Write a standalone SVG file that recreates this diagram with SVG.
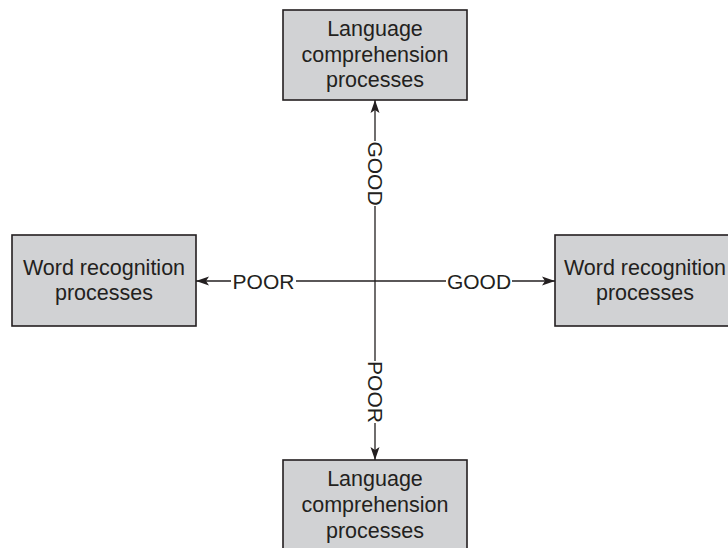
<svg xmlns="http://www.w3.org/2000/svg" width="728" height="548" viewBox="0 0 728 548">
<style>
.box{fill:#d1d2d4;stroke:#231f20;stroke-width:1.6}
.t{font-family:"Liberation Sans",Arial,sans-serif;font-size:21.5px;fill:#231f20;text-anchor:middle}
.lbl{font-family:"Liberation Sans",Arial,sans-serif;font-size:21px;fill:#231f20;text-anchor:middle}
.ln{stroke:#231f20;stroke-width:1.3;fill:none}
</style>
<defs>
<marker id="ah" markerWidth="14" markerHeight="10" refX="13" refY="5" orient="auto" markerUnits="userSpaceOnUse">
<path d="M0,0.5 L13,5 L0,9.5 L3,5 Z" fill="#231f20"/>
</marker>
</defs>
<rect width="728" height="548" fill="#ffffff"/>
<g id="lang-top">
<rect class="box" x="283" y="10" width="184" height="90"/>
<text class="t" x="375" y="35.5">Language</text>
<text class="t" x="375" y="61.5">comprehension</text>
<text class="t" x="375" y="87">processes</text>
</g>
<g id="word-left">
<rect class="box" x="12" y="235" width="184" height="91"/>
<text class="t" x="104" y="275">Word recognition</text>
<text class="t" x="104" y="299.5">processes</text>
</g>
<g id="word-right">
<rect class="box" x="555" y="235" width="184" height="91"/>
<text class="t" x="645" y="275">Word recognition</text>
<text class="t" x="645" y="299.5">processes</text>
</g>
<g id="lang-bottom">
<rect class="box" x="283" y="460" width="184" height="92"/>
<text class="t" x="375" y="486">Language</text>
<text class="t" x="375" y="512">comprehension</text>
<text class="t" x="375" y="538">processes</text>
</g>
<g id="connectors">
<line class="ln" x1="375" y1="281" x2="296" y2="281"/>
<line class="ln" x1="231" y1="281" x2="196" y2="281" marker-end="url(#ah)"/>
<text class="lbl" x="263.5" y="288.5">POOR</text>
<line class="ln" x1="375" y1="281" x2="446" y2="281"/>
<line class="ln" x1="512" y1="281" x2="555" y2="281" marker-end="url(#ah)"/>
<text class="lbl" x="479" y="288.5">GOOD</text>
<line class="ln" x1="375" y1="281" x2="375" y2="206"/>
<line class="ln" x1="375" y1="141" x2="375" y2="100" marker-end="url(#ah)"/>
<text class="lbl" transform="translate(375,173.5) rotate(90)" x="0" y="7.5">GOOD</text>
<line class="ln" x1="375" y1="281" x2="375" y2="361"/>
<line class="ln" x1="375" y1="423" x2="375" y2="460" marker-end="url(#ah)"/>
<text class="lbl" transform="translate(375,392) rotate(90)" x="0" y="7.5">POOR</text>
</g>
</svg>
